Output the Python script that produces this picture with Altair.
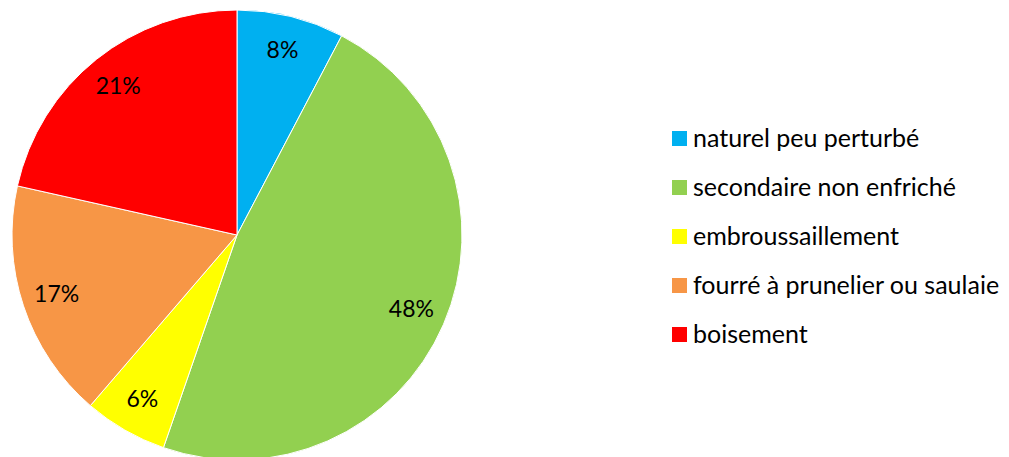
import altair as alt
import pandas as pd

categories = ["naturel peu perturbé", "secondaire non enfriché", "embroussaillement",
              "fourré à prunelier ou saulaie", "boisement"]
values = [7.7, 47.6, 6.0, 17.2, 21.5]
labels = ["8%", "48%", "6%", "17%", "21%"]
colors = ["#00B0F0", "#92D050", "#FFFF00", "#F79646", "#FF0000"]

df = pd.DataFrame({"cat": categories, "val": values, "lab": labels, "ord": list(range(len(values)))})

base = alt.Chart(df).encode(
    theta=alt.Theta("val:Q", stack=True),
    order=alt.Order("ord:Q", sort="ascending"),
)

arcs = base.mark_arc(radius=225, stroke="white", strokeWidth=1).encode(
    color=alt.Color("cat:N",
                    scale=alt.Scale(domain=categories, range=colors),
                    sort=categories,
                    legend=alt.Legend(title=None, orient="none", legendX=659, legendY=118,
                                      symbolType="square", symbolSize=225,
                                      symbolStrokeWidth=0,
                                      labelFont="Lato", labelFontSize=25, labelColor="#000000",
                                      labelLimit=400, labelOffset=1,
                                      rowPadding=23, padding=0))
)

texts = base.mark_text(radius=190, font="Lato", fontSize=23, color="#000000").encode(
    text="lab:N"
)

chart = (arcs + texts).properties(width=458, height=454, padding=0).configure_view(stroke=None)

chart.save("out.html", embed_options={"renderer": "svg", "actions": False})
